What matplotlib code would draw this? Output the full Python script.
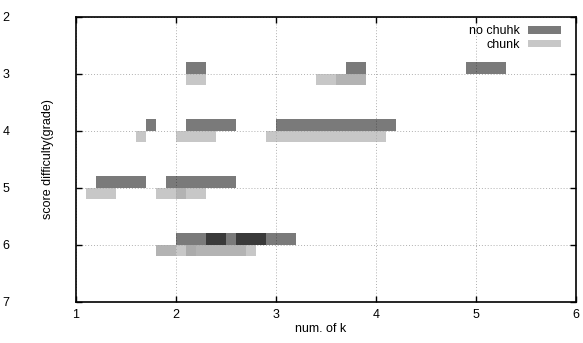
import matplotlib
matplotlib.use('Agg')
import matplotlib.pyplot as plt

plt.rcParams['font.family'] = ['Liberation Sans', 'DejaVu Sans']
plt.rcParams['font.size'] = 9

# score grade, start k, end k
nochunk_grade = [3, 3, 3, 4, 4, 4, 5, 5, 5, 6, 6, 6]
nochunk_start = [2.1, 3.7, 4.9, 1.7, 2.1, 3.0, 1.2, 1.9, 2.3, 2.0, 2.3, 2.6]
nochunk_end = [2.3, 3.9, 5.3, 1.8, 2.6, 4.2, 1.7, 2.3, 2.6, 2.5, 2.9, 3.2]

chunk_grade = [3, 3, 3, 4, 4, 4, 5, 5, 5, 6, 6, 6, 6]
chunk_start = [2.1, 3.4, 3.6, 1.6, 2.0, 2.9, 1.1, 1.8, 2.0, 1.8, 1.8, 2.1, 2.1]
chunk_end = [2.3, 3.9, 3.9, 1.7, 2.4, 4.1, 1.4, 2.1, 2.3, 2.0, 2.2, 2.8, 2.7]

fig = plt.figure(figsize=(5.83, 3.43), dpi=100)
ax = fig.add_axes([0.1304, 0.1204, 0.8576, 0.8309])

bh = 0.2
ax.barh([g - bh / 2 for g in nochunk_grade],
        [e - s for s, e in zip(nochunk_start, nochunk_end)],
        left=nochunk_start, height=bh, color='black', alpha=0.52,
        linewidth=0, label='no chuhk', zorder=2)
ax.barh([g + bh / 2 for g in chunk_grade],
        [e - s for s, e in zip(chunk_start, chunk_end)],
        left=chunk_start, height=bh, color=(0.66, 0.66, 0.66), alpha=0.64,
        linewidth=0, label='chunk', zorder=2)

ax.set_xlim(1, 6)
ax.set_ylim(7, 2)
ax.set_xticks([1, 2, 3, 4, 5, 6])
ax.set_yticks([2, 3, 4, 5, 6, 7])

ax.grid(True, color='#b0b0b0', linestyle=(0, (1, 2)), linewidth=0.7)
ax.set_axisbelow(True)

ax.tick_params(direction='in', top=True, right=True, length=4, width=1)
ax.tick_params(axis='x', pad=5)
ax.tick_params(axis='y', pad=48)
for s in ax.spines.values():
    s.set_linewidth(1.2)

ax.set_xlabel('num. of k')
ax.set_ylabel('score difficulty(grade)')
ax.xaxis.set_label_coords(0.49, -0.075)
ax.yaxis.set_label_coords(-0.044, 0.5)

ax.legend(loc='upper right', bbox_to_anchor=(0.97, 0.97), frameon=False,
          markerfirst=False, borderaxespad=0, borderpad=0,
          handlelength=2.64, handleheight=0.55, handletextpad=0.64,
          labelspacing=0.15)

plt.savefig('out.png', dpi=100)
